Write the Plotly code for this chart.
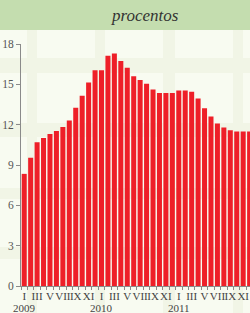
import plotly.graph_objects as go

months = ["I", "II", "III", "IV", "V", "VI", "VII", "VIII", "IX", "X", "XI", "XII"]
years = ["2009", "2010", "2011"]
values = [8.34, 9.53, 10.70, 11.00, 11.30, 11.52, 11.82, 12.31, 13.25, 14.15, 15.14, 16.04,
          16.04, 17.13, 17.30, 16.73, 16.23, 15.61, 15.32, 15.04, 14.62, 14.35, 14.35, 14.35,
          14.55, 14.55, 14.45, 13.95, 13.23, 12.61, 12.09, 11.79, 11.59, 11.50, 11.50, 11.50]
y_ticks = [0, 3, 6, 9, 12, 15, 18]
title_text = "procentos"

W, H = 250, 313
ML, MR, MT, MB = 21, 0, 44, 27
PW, PH = W - ML - MR, H - MT - MB

def px_x(p):
    return (p - ML) / PW

def px_y(p):
    return (H - MB - p) / PH

n = len(values)
xs = list(range(n))
tickvals, ticktext = [], []
for i in range(n):
    m = i % 12
    if m % 2 == 0:
        tickvals.append(i)
        ticktext.append(months[m])

fig = go.Figure(go.Bar(x=xs, y=values, marker=dict(color="#ee1f28", line=dict(width=0)),
                       hoverinfo="skip"))

shapes = []
# title band
shapes.append(dict(type="rect", xref="paper", yref="paper", x0=px_x(0), x1=px_x(W),
                   y0=px_y(30), y1=px_y(0), fillcolor="#c4ddaf", line=dict(width=0), layer="below"))
gut = "#f1f5e6"
for a, b in [(27, 37), (95, 105), (163, 175), (233, 243)]:
    shapes.append(dict(type="rect", xref="paper", yref="paper", x0=px_x(a), x1=px_x(b),
                       y0=px_y(H), y1=px_y(30), fillcolor=gut, line=dict(width=0), layer="below"))
for a, b in [(58, 73), (123, 137), (188, 199), (247, 259)]:
    shapes.append(dict(type="rect", xref="paper", yref="paper", x0=px_x(0), x1=px_x(W),
                       y0=px_y(b), y1=px_y(a), fillcolor=gut, line=dict(width=0), layer="below"))

annotations = [dict(text="<i>" + title_text + "</i>", xref="paper", yref="paper",
                    x=px_x(145), y=px_y(15), xanchor="center", yanchor="middle",
                    showarrow=False,
                    font=dict(family="Liberation Serif, serif", size=17, color="#333"))]
for k, yr in enumerate(years):
    annotations.append(dict(text=yr, xref="x", yref="paper", x=k * 12, y=px_y(307.5),
                            xanchor="center", yanchor="middle", showarrow=False,
                            font=dict(family="Liberation Serif, serif", size=11, color="#444")))

fig.update_layout(
    width=W, height=H,
    margin=dict(l=ML, r=MR, t=MT, b=MB, pad=0),
    paper_bgcolor="#f8fbf1",
    plot_bgcolor="rgba(0,0,0,0)",
    showlegend=False,
    bargap=0.22,
    shapes=shapes,
    font=dict(family="Liberation Serif, serif", color="#444", size=11),
    annotations=annotations,
    xaxis=dict(range=[-0.5, -0.5 + PW / 6.44], tickvals=tickvals, ticktext=ticktext,
               tickangle=0, ticks="", showgrid=False, zeroline=False, showline=True,
               linecolor="#8a8a8a", linewidth=1, automargin=False,
               tickfont=dict(size=11, color="#444"),
               minor=dict(tickvals=[i - 0.5 for i in range(n + 1)], ticks="outside",
                          ticklen=3, tickcolor="#8a8a8a", tickwidth=1, showgrid=False)),
    yaxis=dict(range=[0, 18], tickvals=y_ticks, ticks="outside", ticklen=4,
               tickcolor="#8a8a8a", showgrid=False, zeroline=False, showline=True,
               linecolor="#8a8a8a", linewidth=1, automargin=False,
               tickfont=dict(size=11.5, color="#555")),
)

fig.write_html("out.html", config={"displayModeBar": False},
               post_script="document.body.style.margin='0';document.body.style.overflow='hidden';")
